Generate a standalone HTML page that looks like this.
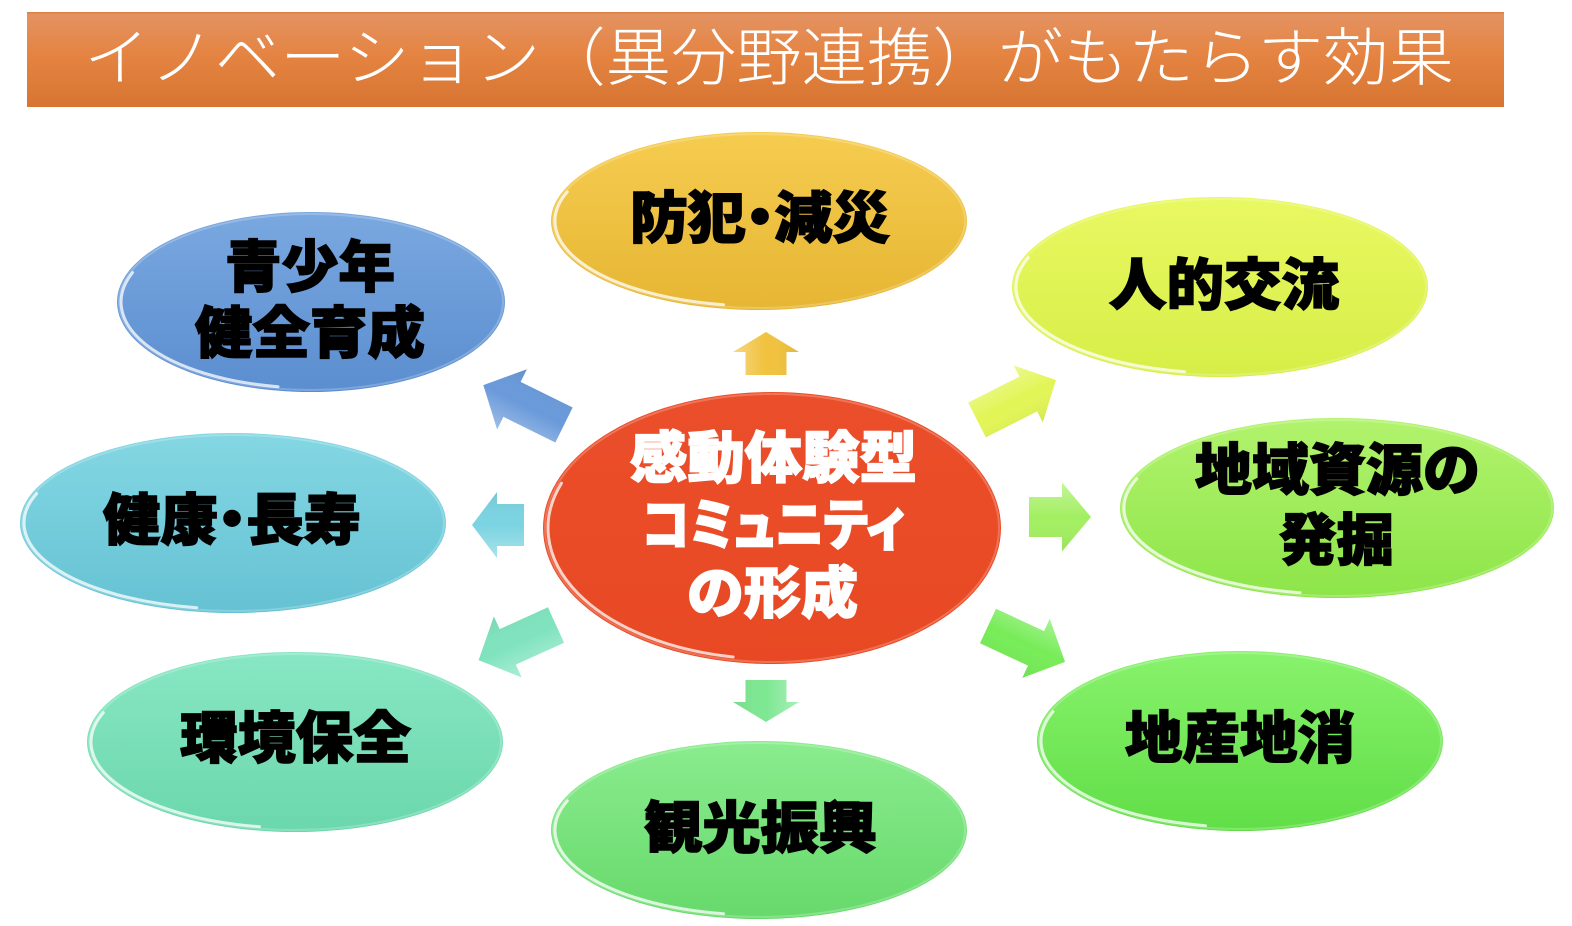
<!DOCTYPE html>
<html>
<head>
<meta charset="utf-8">
<style>
  html,body{margin:0;padding:0;background:#fff;}
  svg{display:block;}
  .t{font-family:"Liberation Sans","Noto Sans CJK JP",sans-serif;}
  .lb{font-family:"Liberation Sans","Noto Sans CJK JP",sans-serif;font-weight:900;fill:#000;stroke:#000;stroke-width:1.5;font-size:56px;}
  .lw{font-family:"Liberation Sans","Noto Sans CJK JP",sans-serif;font-weight:900;fill:#fff;stroke:#fff;stroke-width:1.5;font-size:56px;}
  .p{font-feature-settings:"palt";}
  .hi{fill:none;stroke:#fff;stroke-opacity:0.75;stroke-width:3;stroke-linecap:round;}
  .rim{fill:none;stroke:#fff;stroke-opacity:0.22;stroke-width:2;}
</style>
</head>
<body>
<svg width="1572" height="926" viewBox="0 0 1572 926" xmlns="http://www.w3.org/2000/svg">
  <defs>
    <linearGradient id="gTitle" x1="0" y1="0" x2="0" y2="1">
      <stop offset="0" stop-color="#E39363"/>
      <stop offset="0.45" stop-color="#E58442"/>
      <stop offset="1" stop-color="#D77431"/>
    </linearGradient>
    <linearGradient id="gY" x1="0" y1="0" x2="0" y2="1"><stop offset="0" stop-color="#F6CC50"/><stop offset="1" stop-color="#E6B633"/></linearGradient>
    <linearGradient id="gB" x1="0" y1="0" x2="0" y2="1"><stop offset="0" stop-color="#7AA8E0"/><stop offset="1" stop-color="#5B8ED0"/></linearGradient>
    <linearGradient id="gYG" x1="0" y1="0" x2="0" y2="1"><stop offset="0" stop-color="#E9F862"/><stop offset="1" stop-color="#D7EE47"/></linearGradient>
    <linearGradient id="gLB" x1="0" y1="0" x2="0" y2="1"><stop offset="0" stop-color="#84D7E3"/><stop offset="1" stop-color="#65C2D3"/></linearGradient>
    <linearGradient id="gR" x1="0" y1="0" x2="0" y2="1"><stop offset="0" stop-color="#EB4E2A"/><stop offset="1" stop-color="#E84924"/></linearGradient>
    <linearGradient id="gLG" x1="0" y1="0" x2="0" y2="1"><stop offset="0" stop-color="#B2F36D"/><stop offset="1" stop-color="#8DE549"/></linearGradient>
    <linearGradient id="gT" x1="0" y1="0" x2="0" y2="1"><stop offset="0" stop-color="#88E7C4"/><stop offset="1" stop-color="#6BD7AC"/></linearGradient>
    <linearGradient id="gG" x1="0" y1="0" x2="0" y2="1"><stop offset="0" stop-color="#8AEC8E"/><stop offset="1" stop-color="#67D96B"/></linearGradient>
    <linearGradient id="gG2" x1="0" y1="0" x2="0" y2="1"><stop offset="0" stop-color="#88F26C"/><stop offset="1" stop-color="#61DE47"/></linearGradient>
    <linearGradient id="aSh" x1="0" y1="0" x2="0" y2="1">
      <stop offset="0" stop-color="#fff" stop-opacity="0.35"/>
      <stop offset="0.5" stop-color="#fff" stop-opacity="0"/>
      <stop offset="1" stop-color="#000" stop-opacity="0.06"/>
    </linearGradient>
  </defs>

  <!-- Title bar -->
  <rect x="27" y="12" width="1477" height="95" fill="url(#gTitle)"/>
  <rect x="27" y="12" width="1477" height="1.5" fill="#D9773A" opacity="0.7"/>
  <text class="t" x="84" y="80" font-size="63" font-weight="300" fill="#fff" textLength="1370" lengthAdjust="spacingAndGlyphs">イノベーション（異分野連携）がもたらす効果</text>

  <!-- Arrows -->
  <g>
    <g transform="translate(766,375) rotate(-90)">
      <polygon points="0,-20.5 23,-20.5 23,-33 43,0 23,33 23,20.5 0,20.5" fill="#F1C23E"/>
      <polygon points="0,-20.5 23,-20.5 23,-33 43,0 23,33 23,20.5 0,20.5" fill="url(#aSh)"/>
    </g>
    <g transform="translate(564,425) rotate(-153.7)">
      <polygon points="0,-19.5 58,-19.5 58,-33.5 90,0 58,33.5 58,19.5 0,19.5" fill="#6A9ADA"/>
      <polygon points="0,-19.5 58,-19.5 58,-33.5 90,0 58,33.5 58,19.5 0,19.5" fill="url(#aSh)"/>
    </g>
    <g transform="translate(524,525) rotate(180)">
      <polygon points="0,-21 27,-21 27,-33 52,0 27,33 27,21 0,21" fill="#7BD3E1"/>
      <polygon points="0,-21 27,-21 27,-33 52,0 27,33 27,21 0,21" fill="url(#aSh)"/>
    </g>
    <g transform="translate(556,625) rotate(155.6)">
      <polygon points="0,-19.5 53,-19.5 53,-33.5 85,0 53,33.5 53,19.5 0,19.5" fill="#7FE3BE"/>
      <polygon points="0,-19.5 53,-19.5 53,-33.5 85,0 53,33.5 53,19.5 0,19.5" fill="url(#aSh)"/>
    </g>
    <g transform="translate(766,680) rotate(90)">
      <polygon points="0,-20.5 22,-20.5 22,-33 42,0 22,33 22,20.5 0,20.5" fill="#7DE792"/>
      <polygon points="0,-20.5 22,-20.5 22,-33 42,0 22,33 22,20.5 0,20.5" fill="url(#aSh)"/>
    </g>
    <g transform="translate(1029,517) rotate(0)">
      <polygon points="0,-20 33,-20 33,-34.5 62,0 33,34.5 33,20 0,20" fill="#A3EF62"/>
      <polygon points="0,-20 33,-20 33,-34.5 62,0 33,34.5 33,20 0,20" fill="url(#aSh)"/>
    </g>
    <g transform="translate(977,420) rotate(-26.9)">
      <polygon points="0,-19.5 57.5,-19.5 57.5,-32 88.5,0 57.5,32 57.5,19.5 0,19.5" fill="#E2F556"/>
      <polygon points="0,-19.5 57.5,-19.5 57.5,-32 88.5,0 57.5,32 57.5,19.5 0,19.5" fill="url(#aSh)"/>
    </g>
    <g transform="translate(988,626) rotate(25)">
      <polygon points="0,-19 53,-19 53,-32.5 85,0 53,32.5 53,19 0,19" fill="#77EC58"/>
      <polygon points="0,-19 53,-19 53,-32.5 85,0 53,32.5 53,19 0,19" fill="url(#aSh)"/>
    </g>
  </g>

  <!-- Ellipses -->
  <ellipse cx="759" cy="221" rx="208" ry="89" fill="url(#gY)"/>
  <ellipse class="rim" cx="759" cy="221" rx="206" ry="87"/>
  <path class="hi" d="M567.3,191.9 A204,85 0 0 0 723.6,304.7"/>

  <ellipse cx="311" cy="302" rx="194" ry="90" fill="url(#gB)"/>
  <ellipse class="rim" cx="311" cy="302" rx="192" ry="88"/>
  <path class="hi" d="M132.5,272.6 A190,86 0 0 0 278,386.7"/>

  <ellipse cx="1220" cy="287" rx="208" ry="90" fill="url(#gYG)"/>
  <ellipse class="rim" cx="1220" cy="287" rx="206" ry="88"/>
  <path class="hi" d="M1028.3,257.6 A204,86 0 0 0 1184.6,371.7"/>

  <ellipse cx="233" cy="523" rx="213" ry="90" fill="url(#gLB)"/>
  <ellipse class="rim" cx="233" cy="523" rx="211" ry="88"/>
  <path class="hi" d="M36.6,493.6 A209,86 0 0 0 196.7,607.7"/>

  <ellipse cx="1337" cy="508" rx="217" ry="90" fill="url(#gLG)"/>
  <ellipse class="rim" cx="1337" cy="508" rx="215" ry="88"/>
  <path class="hi" d="M1136.8,478.6 A213,86 0 0 0 1300,592.7"/>

  <ellipse cx="295" cy="742" rx="208" ry="90" fill="url(#gT)"/>
  <ellipse class="rim" cx="295" cy="742" rx="206" ry="88"/>
  <path class="hi" d="M103.3,712.6 A204,86 0 0 0 259.6,826.7"/>

  <ellipse cx="759" cy="830" rx="208" ry="89" fill="url(#gG)"/>
  <ellipse class="rim" cx="759" cy="830" rx="206" ry="87"/>
  <path class="hi" d="M567.3,800.9 A204,85 0 0 0 723.6,913.7"/>

  <ellipse cx="1240" cy="741" rx="203" ry="90" fill="url(#gG2)"/>
  <ellipse class="rim" cx="1240" cy="741" rx="201" ry="88"/>
  <path class="hi" d="M1053,711.6 A199,86 0 0 0 1205.5,825.7"/>

  <ellipse cx="772" cy="528" rx="229" ry="136" fill="url(#gR)"/>
  <ellipse class="rim" cx="772" cy="528" rx="227" ry="134"/>
  <path class="hi" d="M561.5,483.2 A224,131 0 0 0 733.1,657"/>

  <!-- Labels -->
  <text class="lb p" x="630" y="238" textLength="260" lengthAdjust="spacingAndGlyphs">防犯・減災</text>
  <text class="lb" x="225" y="287" textLength="170" lengthAdjust="spacingAndGlyphs">青少年</text>
  <text class="lb" x="195" y="353" textLength="230" lengthAdjust="spacingAndGlyphs">健全育成</text>
  <text class="lb" x="1109" y="305" textLength="230" lengthAdjust="spacingAndGlyphs">人的交流</text>
  <text class="lb p" x="103" y="540" textLength="258" lengthAdjust="spacingAndGlyphs">健康・長寿</text>
  <text class="lb" x="1195" y="490" textLength="285" lengthAdjust="spacingAndGlyphs">地域資源の</text>
  <text class="lb" x="1279" y="560" textLength="115" lengthAdjust="spacingAndGlyphs">発掘</text>
  <text class="lb" x="180" y="758" textLength="231" lengthAdjust="spacingAndGlyphs">環境保全</text>
  <text class="lb" x="644" y="848" textLength="233" lengthAdjust="spacingAndGlyphs">観光振興</text>
  <text class="lb" x="1125" y="758" textLength="230" lengthAdjust="spacingAndGlyphs">地産地消</text>

  <text class="lw" x="630" y="478" textLength="287" lengthAdjust="spacingAndGlyphs">感動体験型</text>
  <text class="lw p" x="642" y="545" textLength="263" lengthAdjust="spacingAndGlyphs">コミュニティ</text>
  <text class="lw" x="687" y="613" textLength="171" lengthAdjust="spacingAndGlyphs">の形成</text>
</svg>
</body>
</html>
